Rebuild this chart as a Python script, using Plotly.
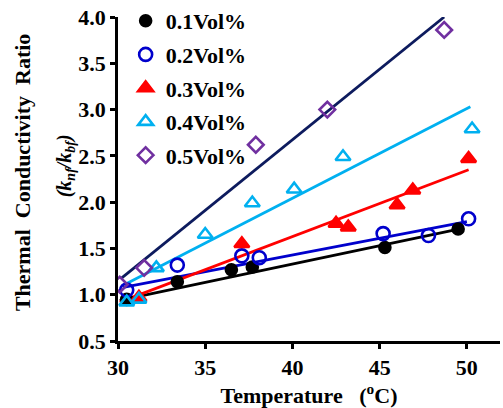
import plotly.graph_objects as go

# ---- data ----
series_names = ["0.1Vol%", "0.2Vol%", "0.3Vol%", "0.4Vol%", "0.5Vol%"]

x_01 = [30.5, 33.4, 36.5, 37.7, 45.3, 49.5]
y_01 = [0.95, 1.14, 1.27, 1.30, 1.51, 1.71]

x_02 = [30.5, 33.4, 37.1, 38.1, 45.2, 47.8, 50.1]
y_02 = [1.05, 1.32, 1.42, 1.40, 1.66, 1.64, 1.82]

x_03 = [31.2, 37.1, 42.5, 43.2, 46.0, 46.9, 50.1]
y_03 = [0.97, 1.55, 1.77, 1.73, 1.97, 2.13, 2.47]

x_04 = [30.5, 31.2, 32.2, 35.0, 37.7, 40.1, 42.9, 50.3]
y_04 = [0.92, 0.95, 1.29, 1.65, 1.99, 2.14, 2.49, 2.79]

x_05 = [30.1, 31.5, 37.9, 42.0, 48.7]
y_05 = [1.11, 1.29, 2.62, 3.00, 3.86]

# trendline end points
trend_x0 = [30.1, 30.3, 30.1, 30.5, 30.2]
trend_y0 = [0.94, 1.08, 0.92, 1.12, 1.18]
trend_x1 = [49.8, 50.0, 50.1, 50.2, 48.7]
trend_y1 = [1.72, 1.79, 2.35, 3.03, 4.00]

x_ticks = [30, 35, 40, 45, 50]
y_ticks = [0.5, 1.0, 1.5, 2.0, 2.5, 3.0, 3.5, 4.0]

# ---- styles ----
xs = [x_01, x_02, x_03, x_04, x_05]
ys = [y_01, y_02, y_03, y_04, y_05]
marker_colors = ["#000000", "#0000CC", "#FF0000", "#00B0F0", "#7030A0"]
line_colors = ["#000000", "#0000CC", "#FF0000", "#00B0F0", "#0D1B5E"]
symbols = ["circle", "circle-open", "triangle-up", "triangle-up-open", "diamond-open"]
sizes = [11, 13, 13, 13, 12]

FONT = "Liberation Serif, Times New Roman, serif"

fig = go.Figure()

for i in range(5):
    fig.add_trace(go.Scatter(
        x=[trend_x0[i], trend_x1[i]], y=[trend_y0[i], trend_y1[i]],
        mode="lines", line=dict(color=line_colors[i], width=2.8),
        showlegend=False, hoverinfo="skip"))

for i in range(5):
    fig.add_trace(go.Scatter(
        x=xs[i], y=ys[i], mode="markers", name="<b>" + series_names[i] + "</b>",
        legendgroup=f"g{i}",
        marker=dict(symbol=symbols[i], size=sizes[i], color=marker_colors[i],
                    line=dict(width=2.6, color=marker_colors[i]))))

fig.update_layout(
    width=503, height=408,
    margin=dict(l=118, r=3, t=17, b=67, autoexpand=False),
    paper_bgcolor="white", plot_bgcolor="white",
    font=dict(family=FONT, color="black", size=22),
    legend=dict(x=0.02, y=1.0, yref="container", xanchor="left", yanchor="top",
                bgcolor="rgba(0,0,0,0)", tracegroupgap=2,
                font=dict(family=FONT, size=22, color="black"),
                itemwidth=30),
    xaxis=dict(range=[30, 51.9], tickvals=x_ticks,
               ticktext=[f"<b>{v}</b>" for v in x_ticks],
               showline=True, linecolor="black", linewidth=2.5,
               ticks="outside", ticklen=5, tickwidth=2.5, tickcolor="black",
               showgrid=False, zeroline=False, automargin=False,
               tickfont=dict(family=FONT, size=22, color="black"),
               title=dict(text="<b>Temperature\u00a0\u00a0 (<sup>o</sup>C)</b>",
                          font=dict(family=FONT, size=22, color="black"), standoff=0)),
    yaxis=dict(range=[0.5, 4.0], tickvals=y_ticks,
               ticktext=[f"<b>{v:.1f}</b>" for v in y_ticks],
               showline=True, linecolor="black", linewidth=2.5,
               ticks="outside", ticklen=5, tickwidth=2.5, tickcolor="black",
               showgrid=False, zeroline=False, automargin=False,
               tickfont=dict(family=FONT, size=22, color="black")),
    annotations=[
        dict(text="<b>Thermal\u00a0 Conductivity\u00a0 Ratio</b>", textangle=-90,
             xref="paper", yref="paper", x=-0.248, y=0.519, xanchor="center", yanchor="middle",
             showarrow=False, font=dict(family=FONT, size=22, color="black")),
        dict(text="<b><i>(k<sub>nf</sub>/k<sub>bf</sub>)</i></b>", textangle=-90,
             xref="paper", yref="paper", x=-0.138, y=0.54, xanchor="center", yanchor="middle",
             showarrow=False, font=dict(family=FONT, size=20, color="black")),
    ],
)

fig.write_html("out.html", config={"displayModeBar": False},
               post_script="document.body.style.margin='0';document.body.style.padding='0';")
